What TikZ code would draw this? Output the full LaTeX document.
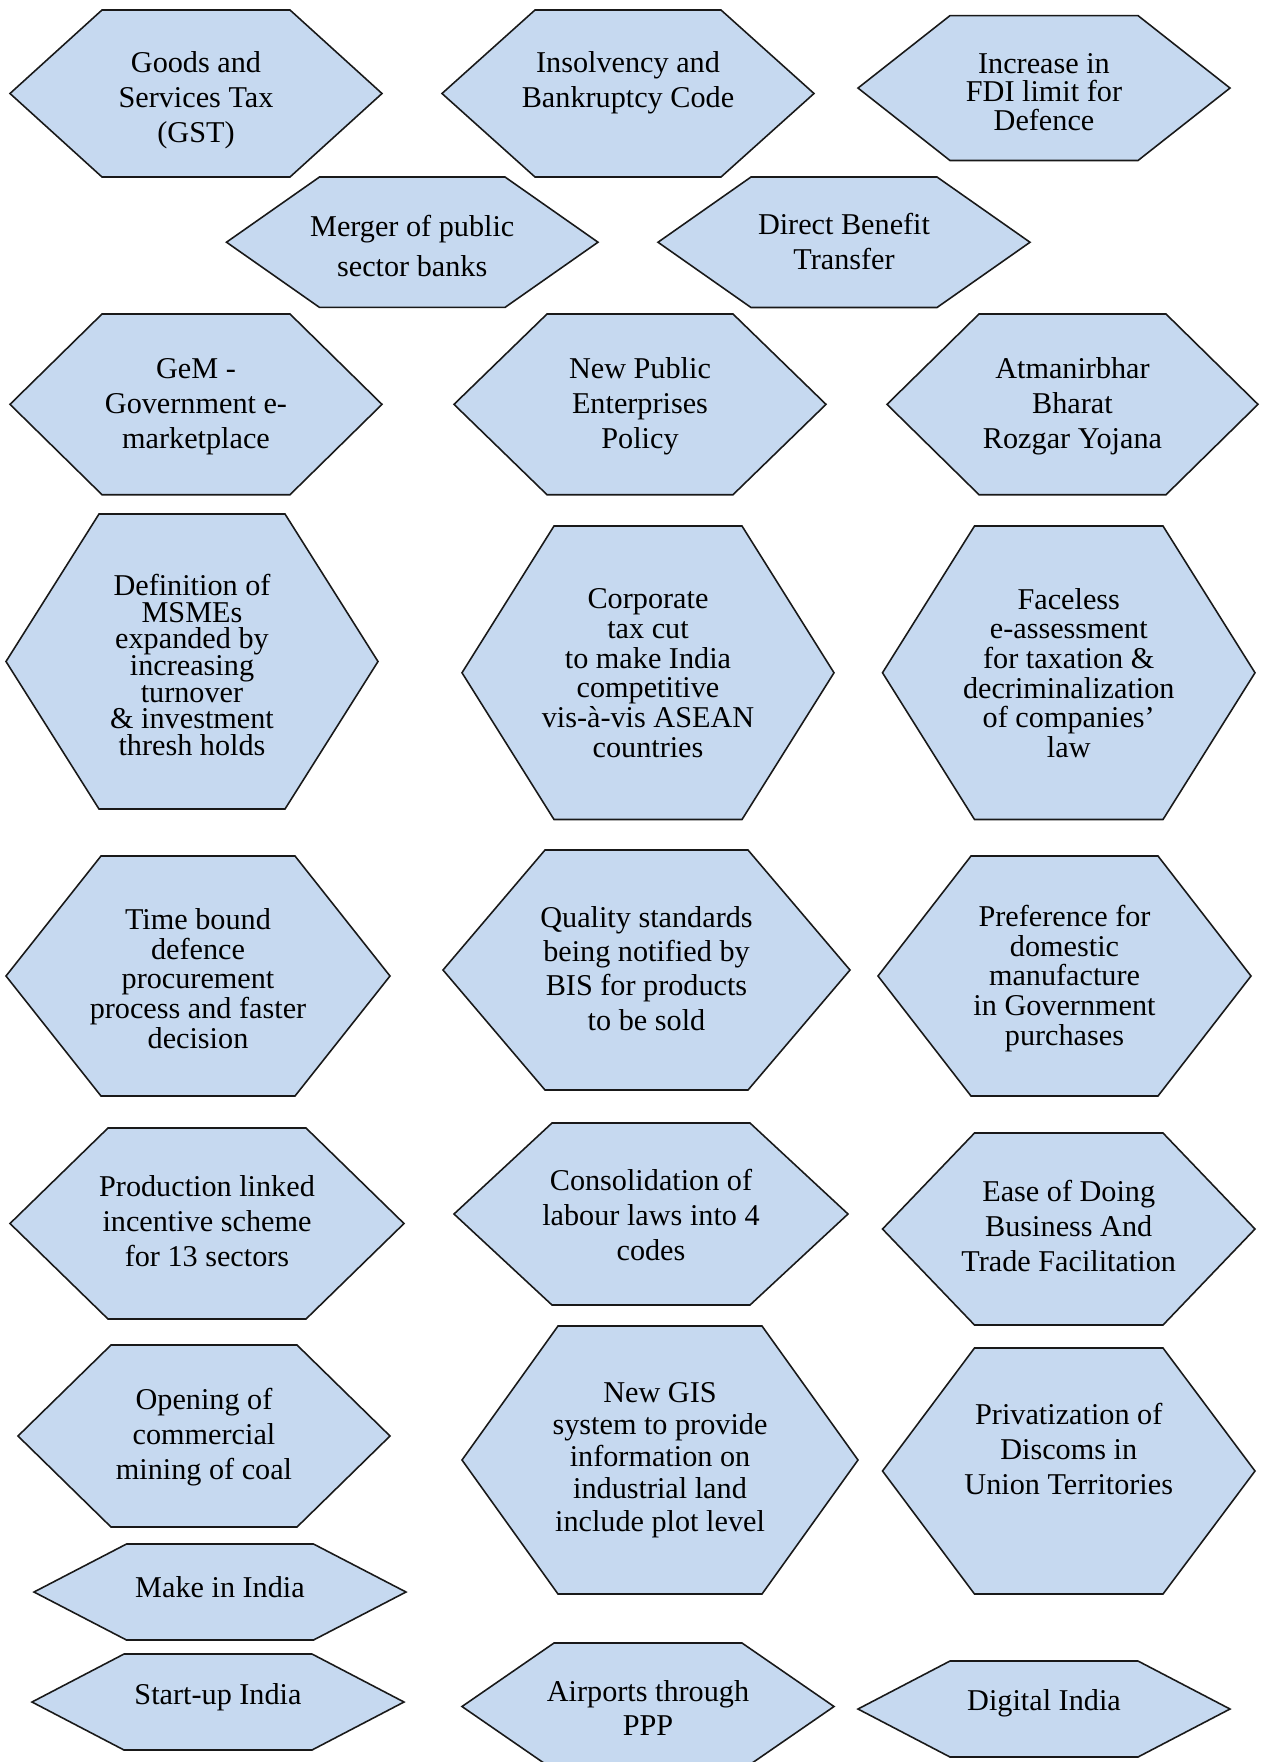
\documentclass[tikz,border=0pt]{standalone}
\usepackage{fontspec}
\setmainfont{Liberation Serif}
\definecolor{hexfill}{RGB}{198,217,240}
\definecolor{hexline}{RGB}{25,25,25}
\newcommand{\hexbox}[9][]{%
	\draw[hexshape] (#3,{(#6+#7)/2}) -- ({#3+#5},#6) -- ({#4-#5},#6) -- (#4,{(#6+#7)/2}) -- ({#4-#5},#7) -- ({#3+#5},#7) -- cycle;
	\node[hexlabel,#1] (#2) at ({(#3+#4)/2},#8) {#9};}

\begin{document}
\begin{tikzpicture}[x=0.02cm,y=-0.02cm,
			hexshape/.style={draw=hexline,fill=hexfill,line width=0.9pt,line join=miter},
			hexlabel/.style={align=center,inner sep=0pt,text=black,yshift=-0.04cm,font=\fontsize{17.2}{19.9}\selectfont},
			spacing/.style={font=\fontsize{17.2}{#1}\selectfont}]
	\useasboundingbox (0,0) rectangle (1261,1762);
	\clip (0,0) rectangle (1261,1762);
	\hexbox{gst}{10}{382}{92}{10}{177}{97.8}{Goods and\\Services Tax\\(GST)}
	\hexbox{ibc}{442}{814}{93}{10}{177}{80.7}{Insolvency and\\Bankruptcy Code}
	\hexbox[spacing=16.2]{fdi}{858}{1230}{92}{15.6}{160.5}{89.9}{Increase in\\FDI limit for\\Defence}
	\hexbox[spacing=22.6]{merger}{226.5}{598}{93}{177}{307.4}{243.7}{Merger of public\\sector banks}
	\hexbox{dbt}{658}{1030}{93}{177}{307.5}{239.6}{Direct Benefit\\Transfer}
	\hexbox{gem}{10}{382}{92}{314}{494.7}{404.5}{GeM -\\Government e-\\marketplace}
	\hexbox{npep}{454}{826}{93}{314}{494.7}{404.5}{New Public\\Enterprises\\Policy}
	\hexbox{abry}{887}{1258}{92}{314}{494.7}{404.5}{Atmanirbhar\\Bharat\\Rozgar Yojana}
	\hexbox[spacing=15.2]{msme}{6}{378}{93}{514}{809}{663}{Definition of\\MSMEs\\expanded by\\increasing\\turnover\\\& investment\\thresh holds}
	\hexbox[spacing=16.9]{taxcut}{462}{834}{92}{526}{819.5}{671}{Corporate\\tax cut\\to make India\\competitive\\vis-à-vis ASEAN\\countries}
	\hexbox[spacing=16.9]{faceless}{882.5}{1255}{92}{526}{819.5}{671}{Faceless\\e-assessment\\for taxation \&\\decriminalization\\of companies’\\law}
	\hexbox[spacing=16.9]{procure}{6}{390}{95}{856}{1096}{976.5}{Time bound\\defence\\procurement\\process and faster\\decision}
	\hexbox[spacing=19.5]{bis}{443}{850}{102}{850}{1090}{966.5}{Quality standards\\being notified by\\BIS for products\\to be sold}
	\hexbox[spacing=16.9]{domestic}{878}{1251}{93}{856}{1096}{976.5}{Preference for\\domestic\\manufacture\\in Government\\purchases}
	\hexbox{pli}{10}{404}{98}{1128}{1319}{1219}{Production linked\\incentive scheme\\for 13 sectors}
	\hexbox{labour}{454}{848}{98}{1123}{1305}{1213}{Consolidation of\\labour laws into 4\\codes}
	\hexbox{eodb}{882.5}{1255}{92}{1133}{1325}{1224}{Ease of Doing\\Business And\\Trade Facilitation}
	\hexbox{coal}{18}{390}{93}{1345}{1527}{1435}{Opening of\\commercial\\mining of coal}
	\hexbox[spacing=18.3]{gis}{462}{858}{96}{1326}{1594}{1458}{New GIS\\system to provide\\information on\\industrial land\\include plot level}
	\hexbox{discom}{882.5}{1255}{92}{1348}{1594}{1447}{Privatization of\\Discoms in\\Union Territories}
	\hexbox{mii}{34}{406}{92.5}{1544}{1640}{1585.5}{Make in India}
	\hexbox{startup}{32}{404}{92}{1654}{1750}{1695}{Start-up India}
	\hexbox[spacing=19.2]{airport}{462}{834}{92}{1643}{1770}{1706}{Airports through\\PPP}
	\hexbox{digital}{858}{1230}{92}{1661}{1757}{1701.6}{Digital India}
\end{tikzpicture}
\end{document}
